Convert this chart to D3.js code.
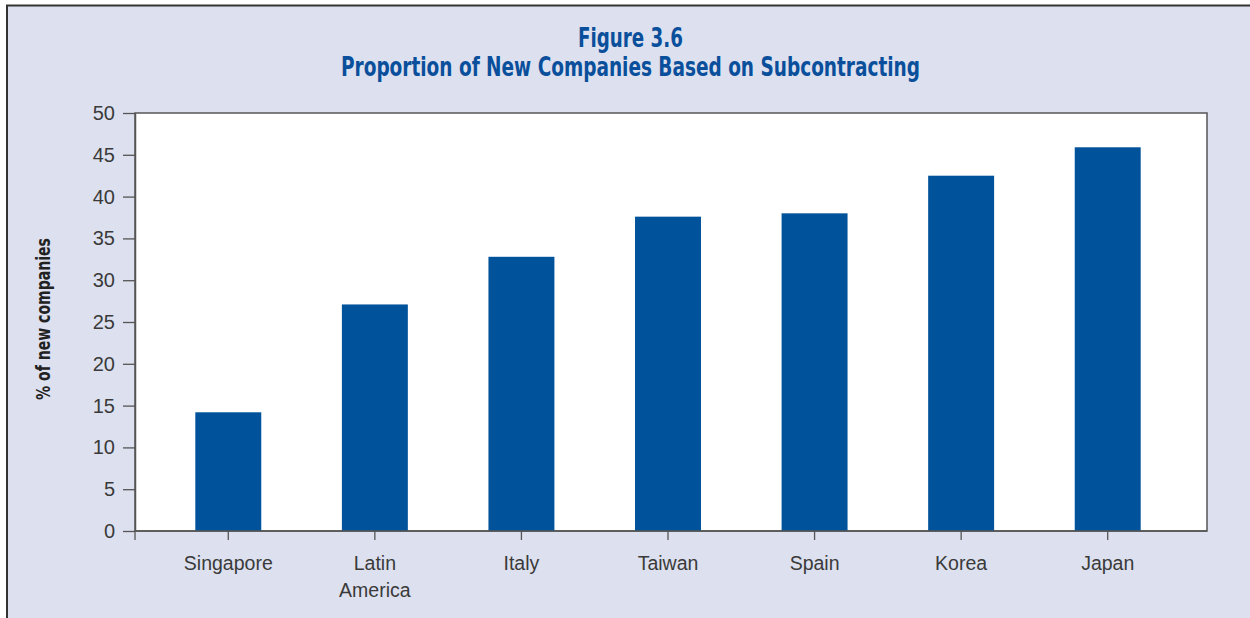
<!DOCTYPE html>
<html>
<head>
<meta charset="utf-8">
<script src="https://cdn.jsdelivr.net/npm/d3@7"></script>
<style>
  html, body { margin: 0; padding: 0; background: #ffffff; }
  svg { display: block; }
</style>
</head>
<body>
<svg id="chart" width="1250" height="618"></svg>
<script>
// Share of new companies founded on subcontracting, by economy
const categories = ["Singapore", "Latin America", "Italy", "Taiwan", "Spain", "Korea", "Japan"];
const categoryLines = [["Singapore"], ["Latin", "America"], ["Italy"], ["Taiwan"], ["Spain"], ["Korea"], ["Japan"]];
const values = [14.2, 27.1, 32.8, 37.6, 38.0, 42.5, 45.9];
const yTicks = [0, 5, 10, 15, 20, 25, 30, 35, 40, 45, 50];
const titleLines = ["Figure 3.6", "Proportion of New Companies Based on Subcontracting"];
const yAxisTitle = "% of new companies";

const svg = d3.select("#chart");
const W = 1250, H = 618;

const panelFill = "#dde1ef";
const barFill = "#00539b";
const titleFill = "#0a4f9b";
const axisInk = "#555555";
const textInk = "#3a3a3a";
const condensed = "'Liberation Sans Narrow', 'DejaVu Sans Condensed', 'Roboto Condensed', sans-serif";
const plain = "'Liberation Sans', Arial, sans-serif";

// Panel background with its left/top rule
svg.append("rect").attr("x", 7).attr("y", 5).attr("width", W - 7).attr("height", H - 5)
  .attr("fill", panelFill);
svg.append("path").attr("d", `M7,${H} V5.5 H${W}`)
  .attr("fill", "none").attr("stroke", "#333").attr("stroke-width", 2);

// Title, set in a condensed bold face squeezed to its typeset width
const titleWidths = [105, 579];
svg.append("g").selectAll("text").data(titleLines).join("text")
  .attr("x", 630.5).attr("y", (d, i) => 47 + i * 29)
  .attr("text-anchor", "middle")
  .attr("font-family", condensed).attr("font-weight", "bold")
  .attr("font-size", 27).attr("fill", titleFill)
  .attr("textLength", (d, i) => titleWidths[i])
  .attr("lengthAdjust", "spacingAndGlyphs")
  .text(d => d);

// Plot frame
const plot = { left: 135, top: 113, right: 1207, bottom: 531 };

const y = d3.scaleLinear().domain([0, 50]).range([plot.bottom, plot.top]);
const x = d3.scaleBand().domain(categories).range([155, 1181]).paddingInner(0.55).paddingOuter(0.275);

svg.append("rect")
  .attr("x", plot.left).attr("y", plot.top)
  .attr("width", plot.right - plot.left).attr("height", plot.bottom - plot.top)
  .attr("fill", "#ffffff").attr("stroke", axisInk).attr("stroke-width", 1.5);

// Bars
svg.append("g").selectAll("rect").data(values).join("rect")
  .attr("x", (d, i) => x(categories[i]))
  .attr("y", d => y(d))
  .attr("width", x.bandwidth())
  .attr("height", d => y(0) - y(d))
  .attr("fill", barFill);

// Y axis
const yAxis = svg.append("g")
  .attr("transform", `translate(${plot.left},0)`)
  .call(d3.axisLeft(y).tickValues(yTicks).tickSize(12).tickPadding(8).tickSizeOuter(0));
yAxis.select(".domain").attr("stroke", axisInk).attr("stroke-width", 1.5);
yAxis.selectAll(".tick line").attr("stroke", axisInk).attr("stroke-width", 1.3);
yAxis.selectAll(".tick text")
  .attr("font-family", plain).attr("font-size", 20).attr("fill", textInk);

// X axis
const xAxis = svg.append("g")
  .attr("transform", `translate(0,${plot.bottom})`)
  .call(d3.axisBottom(x).tickSize(9).tickSizeOuter(0).tickFormat(""));
xAxis.select(".domain").attr("stroke", axisInk).attr("stroke-width", 1.5)
  .attr("d", `M${plot.left},0H${plot.right}`);
xAxis.selectAll(".tick line").attr("stroke", axisInk).attr("stroke-width", 1.3);
// axis corner tick below the origin
xAxis.append("line").attr("x1", plot.left).attr("x2", plot.left).attr("y1", 0).attr("y2", 9)
  .attr("stroke", axisInk).attr("stroke-width", 1.3);

const labels = svg.append("g").selectAll("text").data(categories).join("text")
  .attr("x", d => x(d) + x.bandwidth() / 2)
  .attr("y", 570)
  .attr("text-anchor", "middle")
  .attr("font-family", plain).attr("font-size", 19.5).attr("fill", textInk);
labels.each(function (d, i) {
  d3.select(this).selectAll("tspan").data(categoryLines[i]).join("tspan")
    .attr("x", x(d) + x.bandwidth() / 2)
    .attr("dy", (t, j) => j === 0 ? 0 : 27)
    .text(t => t);
});

// Y axis title
svg.append("text")
  .attr("transform", "translate(50,319) rotate(-90)")
  .attr("text-anchor", "middle")
  .attr("font-family", condensed).attr("font-weight", "bold")
  .attr("font-size", 19).attr("fill", "#222")
  .attr("textLength", 162).attr("lengthAdjust", "spacingAndGlyphs")
  .text(yAxisTitle);
</script>
</body>
</html>
